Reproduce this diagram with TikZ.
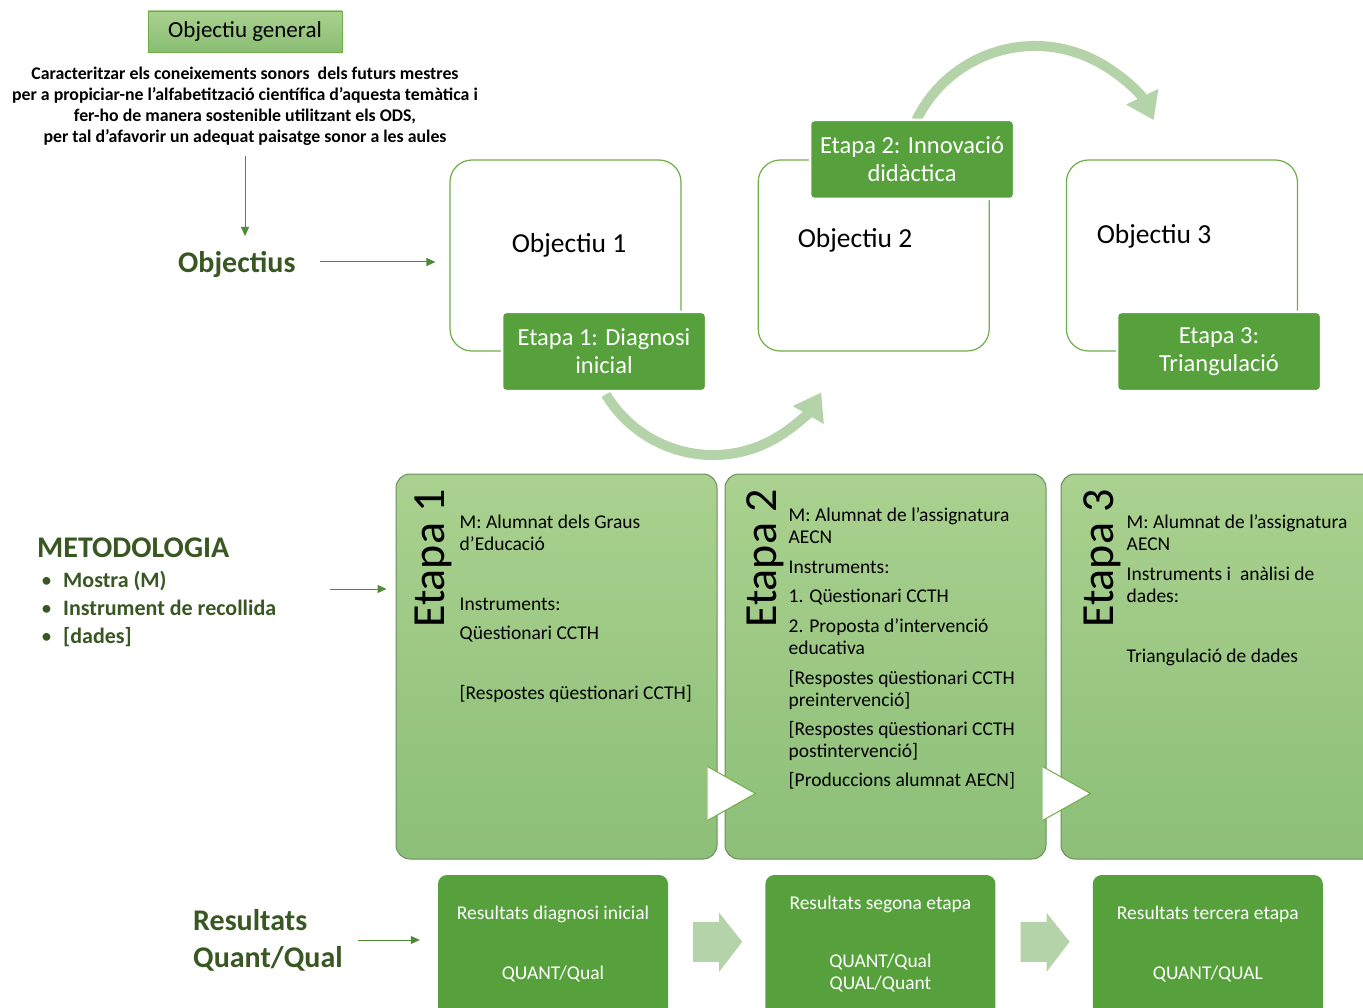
\documentclass[tikz,border=0pt]{standalone}
\usepackage{fontspec}
\setmainfont{Carlito}
\usetikzlibrary{positioning,arrows.meta}

\definecolor{darkgreen}{HTML}{385723}
\definecolor{midgreen}{HTML}{56A13B}
\definecolor{linegreen}{HTML}{70AD47}
\definecolor{paneltop}{HTML}{AAD18F}
\definecolor{panelbottom}{HTML}{8CBF78}
\definecolor{paneledge}{HTML}{6B8E5E}
\definecolor{paleflow}{HTML}{B5D3A8}
\definecolor{arrowgreen}{HTML}{4F8A34}

\begin{document}
\begin{tikzpicture}[x=1pt, y=1pt,
    genbox/.style={rectangle, draw=linegreen, top color=paneltop, bottom color=panelbottom!90!linegreen, minimum width=194pt, minimum height=41pt, font=\fontsize{23}{26}\selectfont},
    aim/.style={align=center, inner sep=0pt, font=\fontsize{17.8}{21}\selectfont\bfseries},
    heading/.style={inner sep=0pt, text=darkgreen, font=\fontsize{30}{37}\selectfont\bfseries},
    bullets/.style={align=left, inner sep=0pt, text=darkgreen, font=\fontsize{22}{28}\selectfont\bfseries},
    pointer/.style={draw=arrowgreen, line width=1pt, -{Triangle[length=9pt,width=8pt]}},
    objbox/.style={rectangle, rounded corners=22pt, draw=linegreen, line width=1.2pt, fill=white, minimum width=231pt, minimum height=191pt},
    objtext/.style={anchor=mid, inner sep=0pt, font=\fontsize{27.5}{30}\selectfont},
    stagebox/.style={rectangle, rounded corners=4pt, fill=midgreen, draw=white, line width=2.5pt, text=white, align=center, minimum width=204pt, minimum height=79pt, font=\fontsize{24.5}{28}\selectfont},
    flow/.style={draw=paleflow, line width=10pt, -{Triangle[length=26pt,width=34pt]}},
    panel/.style={rectangle, rounded corners=14pt, draw=paneledge, line width=1pt, top color=paneltop, bottom color=panelbottom, minimum width=321pt, minimum height=385pt},
    stagename/.style={rotate=90, inner sep=0pt, font=\fontsize{46}{46}\selectfont},
    paneltext/.style={align=left, anchor=north west, inner sep=0pt, font=\fontsize{19.5}{22}\selectfont},
    chevron/.style={fill=white, draw=linegreen, line width=1pt},
    resbox/.style={rectangle, rounded corners=9pt, fill=midgreen, minimum width=230pt, minimum height=160pt},
    restext/.style={text=white, align=center, inner sep=0pt, font=\fontsize{19.5}{22}\selectfont},
    blockflow/.style={fill=paleflow}
  ]
  \useasboundingbox (0,0) rectangle (1363,-1008);

  % objectiu general
  \node[genbox] (gen) at (245,-31.5) {Objectiu general};
  \node[aim, below=15pt of gen] (aimtext) {Caracteritzar els coneixements sonors \ dels futurs mestres\\
    per a propiciar-ne l’alfabetització científica d’aquesta temàtica i\\
    fer-ho de manera sostenible utilitzant els ODS,\\
    per tal d’afavorir un adequat paisatge sonor a les aules};
  \coordinate (aimend) at (245,-236);
  \draw[pointer, shorten <=10pt] (aimtext.south) -- (aimend);

  % objectius
  \node[heading, anchor=mid west] (objectius) at (178,-270) {Objectius};
  \node[objbox] (obj1) at (565.5,-255.5) {};
  \node[objbox, right=76pt of obj1] (obj2) {};
  \node[objbox, right=76pt of obj2] (obj3) {};
  \node[objtext] (obj1text) at (569,-250) {Objectiu 1};
  \node[objtext] (obj2text) at (855,-245) {Objectiu 2};
  \node[objtext] (obj3text) at (1154,-241) {Objectiu 3};
  \draw[pointer, shorten <=24pt, shorten >=14pt] ([yshift=8pt]objectius.mid east) -- ([yshift=8pt]objectius.mid east -| obj1.west);

  % fletxes corbes
  \coordinate (bend1) at (713,-330);
  \draw[flow] ([shift={(211:125pt)}]bend1) arc[start angle=211, end angle=330, radius=125pt];
  \coordinate (bend2) at (1035,-178);
  \draw[flow] ([shift={(154:132pt)}]bend2) arc[start angle=154, end angle=26, radius=132pt];

  \node[stagebox] (stage1) at (604,-351.5) {Etapa 1: Diagnosi\\inicial};
  \node[stagebox] (stage2) at (912,-159.5) {Etapa 2: Innovació\\didàctica};
  \node[stagebox] (stage3) at (1219,-351.5) {Etapa 3:\\Triangulació};

  % metodologia
  \node[heading, anchor=mid west] (metodo) at (37,-555) {METODOLOGIA};
  \node[bullets, below right=13pt and 4pt of metodo.south west] (metodolist) {\makebox[22pt][l]{\mdseries •}Mostra (M)\\
    \makebox[22pt][l]{\mdseries •}Instrument de recollida\\
    \makebox[22pt][l]{\mdseries •}[dades]};

  \node[panel] (panel1) at (556.5,-666.5) {};
  \node[panel, right=7pt of panel1] (panel2) {};
  \node[panel, right=14pt of panel2] (panel3) {};
  \coordinate (metstart) at (330,-589);
  \draw[pointer, shorten >=9pt] (metstart) -- (metstart -| panel1.west);

  \node[stagename] (name1) at ([xshift=38pt,yshift=-85pt]panel1.north west) {Etapa 1};
  \node[stagename] (name2) at ([xshift=40.5pt,yshift=-85pt]panel2.north west) {Etapa 2};
  \node[stagename] (name3) at ([xshift=42pt,yshift=-85pt]panel3.north west) {Etapa 3};

  \node[paneltext] (text1) at ([xshift=64pt,yshift=-41pt]panel1.north west) {M: Alumnat dels Graus\\
    d’Educació\\[38pt]
    Instruments:\\[7pt]
    Qüestionari CCTH\\[38pt]
    {[}Respostes qüestionari CCTH]};
  \node[paneltext] (text2) at ([xshift=64pt,yshift=-34pt]panel2.north west) {M: Alumnat de l’assignatura\\
    AECN\\[8pt]
    Instruments:\\[7pt]
    1. Qüestionari CCTH\\[8pt]
    2. Proposta d’intervenció\\
    educativa\\[8pt]
    {[}Respostes qüestionari CCTH\\
    preintervenció]\\[7pt]
    {[}Respostes qüestionari CCTH\\
    postintervenció]\\[7pt]
    {[}Produccions alumnat AECN]};
  \node[paneltext] (text3) at ([xshift=66pt,yshift=-41pt]panel3.north west) {M: Alumnat de l’assignatura\\
    AECN\\[8pt]
    Instruments i \ anàlisi de\\
    dades:\\[38pt]
    Triangulació de dades};

  \coordinate (tip1) at ([xshift=31pt,yshift=66pt]panel2.south west);
  \coordinate (tip2) at ([xshift=30pt,yshift=66pt]panel3.south west);
  \draw[chevron] ([xshift=-48pt,yshift=27pt]tip1) -- (tip1) -- ([xshift=-48pt,yshift=-27pt]tip1);
  \draw[chevron] ([xshift=-48pt,yshift=27pt]tip2) -- (tip2) -- ([xshift=-48pt,yshift=-27pt]tip2);

  % resultats
  \node[heading, align=left, anchor=west] (resultats) at (193,-940) {Resultats\\Quant/Qual};
  \node[resbox] (res1) at (553,-955) {};
  \node[resbox, right=97pt of res1] (res2) {};
  \node[resbox, right=97pt of res2] (res3) {};
  \draw[pointer, shorten <=15pt, shorten >=18pt] (resultats.east) -- (resultats.east -| res1.west);

  \node[restext, anchor=mid] (res1top) at ([yshift=-42pt]res1.north) {Resultats diagnosi inicial};
  \node[restext, anchor=mid] (res1bottom) at ([yshift=-102pt]res1.north) {QUANT/Qual};
  \node[restext, anchor=mid] (res2top) at ([yshift=-32pt]res2.north) {Resultats segona etapa};
  \node[restext] (res2bottom) at ([yshift=-98pt]res2.north) {QUANT/Qual\\QUAL/Quant};
  \node[restext, anchor=mid] (res3top) at ([yshift=-42pt]res3.north) {Resultats tercera etapa};
  \node[restext, anchor=mid] (res3bottom) at ([yshift=-102pt]res3.north) {QUANT/QUAL};

  \fill[blockflow] ([xshift=25pt,yshift=-47pt]res1.north east) -- ++(26,0) -- ++(0,9) -- ++(23,-29) -- ++(-23,-30) -- ++(0,10) -- ++(-26,0) -- cycle;
  \fill[blockflow] ([xshift=25pt,yshift=-47pt]res2.north east) -- ++(26,0) -- ++(0,9) -- ++(23,-29) -- ++(-23,-30) -- ++(0,10) -- ++(-26,0) -- cycle;
\end{tikzpicture}
\end{document}
